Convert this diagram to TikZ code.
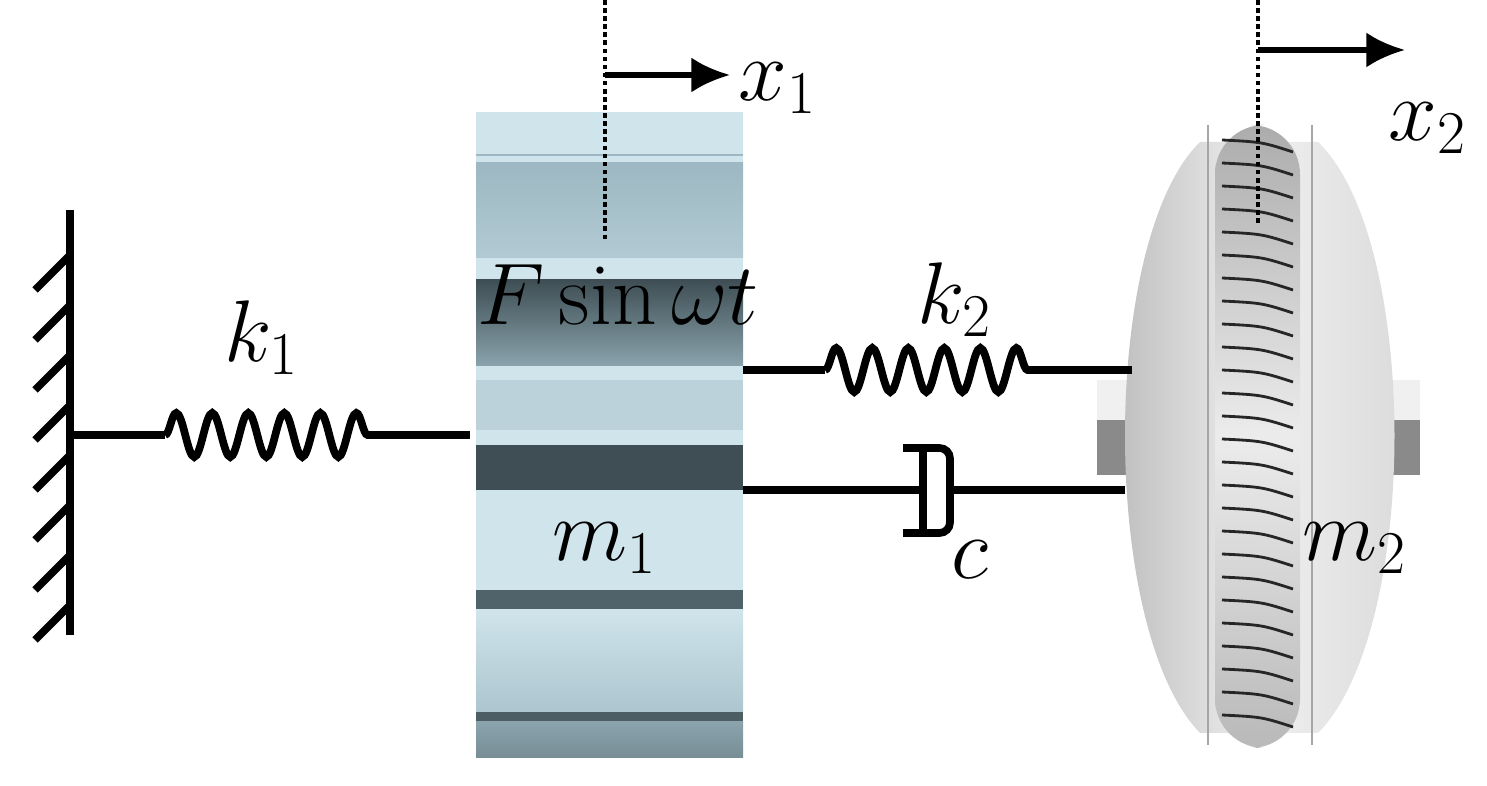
\documentclass[tikz,border=0pt]{standalone}
\usetikzlibrary{decorations.pathmorphing,arrows.meta}
\definecolor{iceblue}{HTML}{CFE4EB}
\definecolor{steelblue}{HTML}{9DB8C2}
\definecolor{darkslate}{HTML}{3E4E54}
\definecolor{tiregray}{HTML}{8A8A8A}
\tikzset{
  rod/.style={line width=2.2pt},
  spring/.style={line width=2.2pt,decorate,decoration={snake,segment length=0.36cm,amplitude=0.22cm}},
  motion/.style={line width=1.3pt,densely dotted},
  push/.style={line width=1.6pt,-{Latex[length=11pt,width=10pt]}},
  lbl/.style={font=\fontsize{24}{28}\selectfont},
}
\begin{document}
\begin{tikzpicture}[x=0.01cm,y=-0.01cm]
  \useasboundingbox (0,0) rectangle (1487,786);
  \def\wx{70}   %wall position
  \def\ya{435}  %level of first spring
  \def\yb{370}  %level of second spring
  \def\yc{490}  %level of damper

  %WALL
  \draw[rod] (\wx,210)--(\wx,635);
  \foreach \h in {255,305,...,605}{
    \draw[rod] (\wx,\h)--++(-35,35);
  } %end of hatch loop

  %MASS 1 (stripes from top to bottom)
  \fill[iceblue] (476,112) rectangle (743,758);
  \fill[top color=steelblue,bottom color=steelblue!60!iceblue] (476,163) rectangle (743,258);
  \draw[steelblue] (476,155)--(743,155);
  \fill[top color=darkslate,bottom color=steelblue!80!darkslate] (476,280) rectangle (743,366);
  \fill[steelblue!40!iceblue] (476,380) rectangle (743,430);
  \fill[darkslate] (476,445) rectangle (743,490);
  \fill[darkslate!80!steelblue] (476,590) rectangle (743,610);
  \fill[top color=iceblue,bottom color=steelblue!70!iceblue] (476,610) rectangle (743,712);
  \fill[darkslate!85!steelblue] (476,712) rectangle (743,722);
  \fill[top color=steelblue!80!darkslate,bottom color=steelblue!60!darkslate] (476,722) rectangle (743,758);

  %WHEEL (mass 2)
  \fill[tiregray] (1097,420) rectangle (1420,475);
  \fill[gray!12] (1097,380) rectangle (1420,420);
  \shade[left color=gray!55,right color=gray!30,middle color=gray!12]
    (1200,142) .. controls (1100,240) and (1100,630) .. (1200,733)
    -- (1318,733) .. controls (1420,630) and (1420,240) .. (1318,142) -- cycle;
  \draw[gray!70,thick] (1208,125)--(1208,745) (1312,125)--(1312,745);
  \shade[top color=gray!65,bottom color=gray!55,middle color=gray!15,rounded corners=14] (1215,125) rectangle (1300,748);
  \foreach \t in {140,163,...,735}{
    \draw[gray!30!black,thick] (1222,\t) .. controls (1262,\t+2) .. (1293,\t+12);
  } %end of tread loop

  %SPRING k1
  \coordinate (w1) at (\wx,\ya);
  \coordinate (s1a) at (165,\ya);
  \coordinate (s1b) at (375,\ya);
  \coordinate (m1a) at (470,\ya);
  \draw[rod] (w1)--(s1a);
  \draw[spring] (s1a)--(s1b);
  \draw[rod] (s1b)--(m1a);
  \node[lbl] (k1) at (262,338) {$k_1$};

  %SPRING k2
  \coordinate (m1b) at (743,\yb);
  \coordinate (s2a) at (825,\yb);
  \coordinate (s2b) at (1040,\yb);
  \coordinate (m2a) at (1132,\yb);
  \draw[rod] (m1b)--(s2a);
  \draw[spring] (s2a)--(s2b);
  \draw[rod] (s2b)--(m2a);
  \node[lbl] (k2) at (955,300) {$k_2$};

  %DAMPER c
  \coordinate (m1c) at (743,\yc);
  \coordinate (pist) at (923,\yc);
  \coordinate (cyl) at (950,\yc);
  \coordinate (m2c) at (1125,\yc);
  \draw[rod] (m1c)--(pist);
  \draw[rod] (pist)++(0,-42)--++(0,84);
  \draw[rod,rounded corners=3] (903,448)--(950,448)--(950,533)--(903,533);
  \draw[rod] (cyl)--(m2c);
  \node[lbl] (c) at (970,560) {$c$};

  %DISPLACEMENTS
  \draw[motion] (605,0)--(605,240);
  \coordinate (x1a) at (605,75);
  \coordinate (x1b) at (730,75);
  \draw[push] (x1a)--(x1b);
  \node[lbl] (x1) at (778,88) {$x_1$};
  \draw[motion] (1258,0)--(1258,225);
  \coordinate (x2a) at (1258,50);
  \coordinate (x2b) at (1405,50);
  \draw[push] (x2a)--(x2b);
  \node[lbl] (x2) at (1428,128) {$x_2$};

  %LABELS
  \node[font=\fontsize{27}{30}\selectfont] (F) at (618,295) {$F\sin\omega t$};
  \node[lbl] (m1) at (605,548) {$m_1$};
  \node[lbl] (m2) at (1355,548) {$m_2$};
\end{tikzpicture}
\end{document}
